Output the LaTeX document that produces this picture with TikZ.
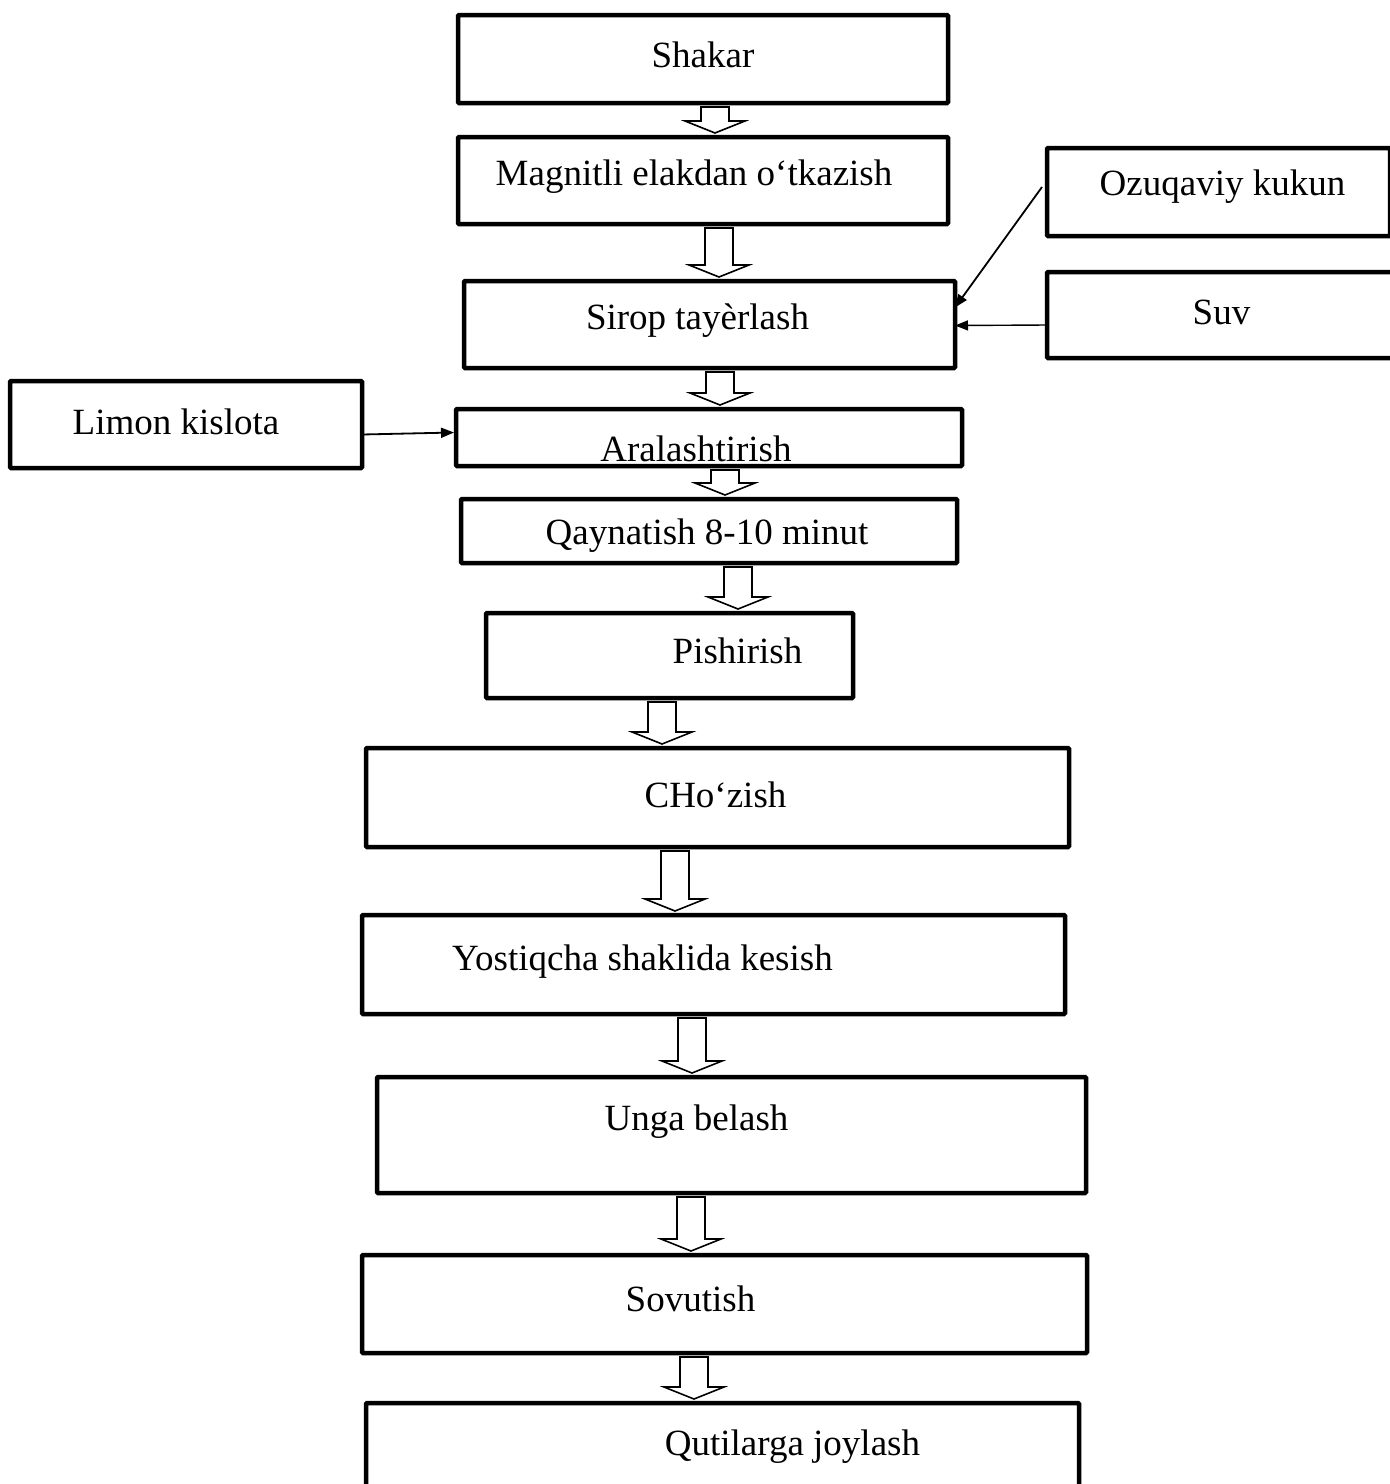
\documentclass[tikz,border=0pt]{standalone}
\usepackage{fontspec}
\setmainfont{Liberation Serif}
\usetikzlibrary{arrows.meta,calc}

\tikzset{
  stage/.style={draw,line width=4.5pt,inner sep=0pt,outer sep=0pt,rounded corners=1pt},
  every label/.style={font=\fontsize{37pt}{44pt}\selectfont,inner sep=0pt},
  feed/.style={line width=1.8pt,-{Triangle[length=13pt,width=10pt]}},
  blockarrow/.style={draw,line width=1.6pt,fill=white,line join=miter}
}

\newcommand{\flowdown}[3]{%
  \path[blockarrow] let \p1=(#1.south), \p2=(#2.north) in
    ({#3pt-14pt},\y1-4pt) -- ({#3pt-14pt},\y2+16pt) -- ({#3pt-30pt},\y2+16pt)
    -- (#3pt,\y2+4pt) -- ({#3pt+30pt},\y2+16pt) -- ({#3pt+14pt},\y2+16pt)
    -- ({#3pt+14pt},\y1-4pt) -- cycle;}

\begin{document}
\begin{tikzpicture}[x=1pt,y=-1pt]
\useasboundingbox (0,0) rectangle (1390,1484);
\clip (0,0) rectangle (1390,1484);

\node[stage,minimum width=490pt,minimum height=88pt,label={[shift={(0,-4)}]center:Shakar}] (shakar) at (703,59) {};
\node[stage,minimum width=490pt,minimum height=87pt,label={[shift={(-9,-4)}]center:Magnitli elakdan o‘tkazish}] (magnit) at (703,180.5) {};
\node[stage,minimum width=343pt,minimum height=88pt,label={[shift={(4,-5)}]center:Ozuqaviy kukun}] (ozuq) at (1218.5,192) {};
\node[stage,minimum width=353pt,minimum height=86pt,label={[shift={(-2,-3)}]center:Suv}] (suv) at (1223.5,315) {};
\node[stage,minimum width=491pt,minimum height=87pt,label={[shift={(-12,-4)}]center:Sirop tayèrlash}] (sirop) at (709.5,324.5) {};
\node[stage,minimum width=352pt,minimum height=87pt,label={[shift={(-10,-3)}]center:Limon kislota}] (limon) at (186,424.5) {};
\node[stage,minimum width=506pt,minimum height=57pt,label={[shift={(-13,11)}]center:Aralashtirish}] (aralash) at (709,437.5) {};
\node[stage,minimum width=496pt,minimum height=64pt,label={[shift={(-2,5)}]center:Qaynatish 8-10 minut}] (qaynat) at (709,531) {};
\node[stage,minimum width=367pt,minimum height=85pt,label={[shift={(68,-5)}]center:Pishirish}] (pishir) at (669.5,655.5) {};
\node[stage,minimum width=703pt,minimum height=99pt,label={[shift={(-2,-3)}]center:CHo‘zish}] (chozish) at (717.5,797.5) {};
\node[stage,minimum width=703pt,minimum height=99pt,label={[shift={(-71,-3)}]center:Yostiqcha shaklida kesish}] (kesish) at (713.5,964.5) {};
\node[stage,minimum width=709pt,minimum height=116pt,label={[shift={(-35,-13)}]center:Unga belash}] (belash) at (731.5,1135) {};
\node[stage,minimum width=725pt,minimum height=98pt,label={[shift={(-34,-5)}]center:Sovutish}] (sovut) at (724.5,1304) {};
\node[stage,minimum width=713pt,minimum height=126pt,label={[shift={(70,-19)}]center:Qutilarga joylash}] (qutil) at (722.5,1466) {};

\flowdown{shakar}{magnit}{715}
\flowdown{magnit}{sirop}{719}
\flowdown{sirop}{aralash}{720}
\flowdown{aralash}{qaynat}{725}
\flowdown{qaynat}{pishir}{738}
\flowdown{pishir}{chozish}{662}
\flowdown{chozish}{kesish}{675}
\flowdown{kesish}{belash}{692}
\flowdown{belash}{sovut}{691}
\flowdown{sovut}{qutil}{694}

\draw[feed] ([shift={(-5,-5)}]ozuq.west) -- ([shift={(0,-17)}]sirop.east);
\draw[feed,line width=1.4pt] ([shift={(0,10)}]suv.west) -- ([shift={(0,1)}]sirop.east);
\draw[feed] ([shift={(0,10)}]limon.east) -- ([shift={(-2,-5)}]aralash.west);
\end{tikzpicture}
\end{document}
